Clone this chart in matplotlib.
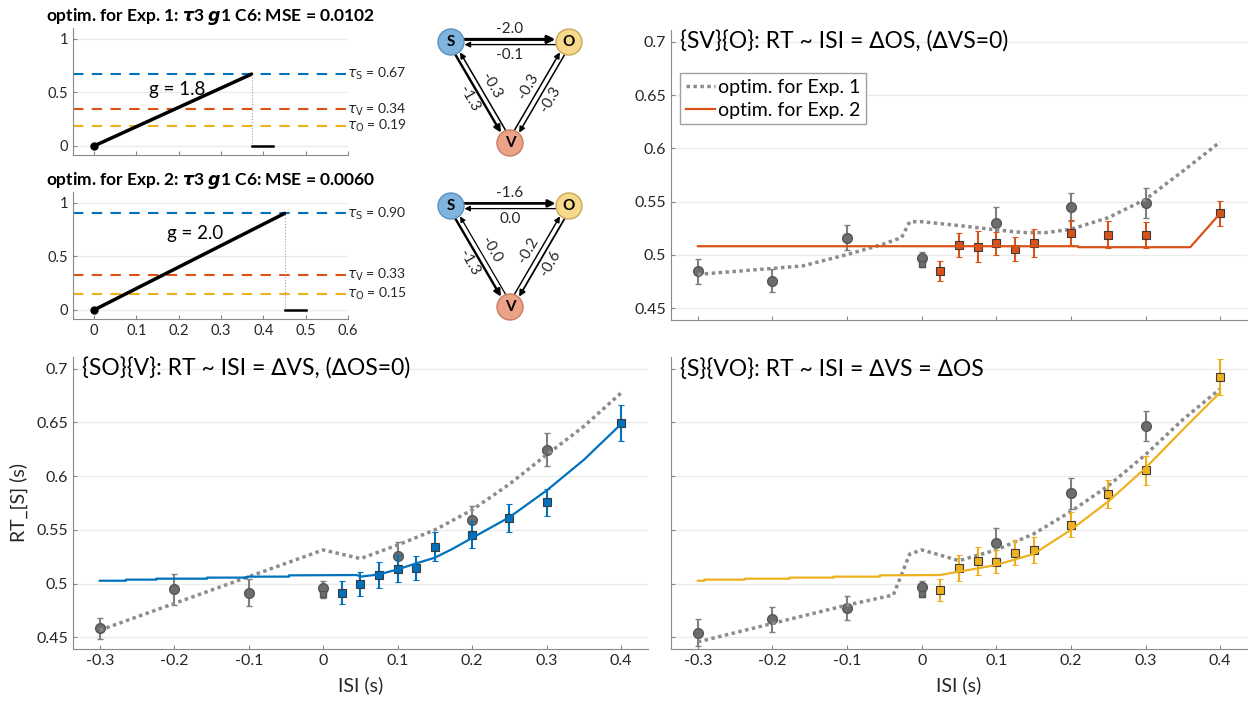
import numpy as np
import matplotlib.pyplot as plt
from matplotlib import ticker
from matplotlib.patches import Circle
from matplotlib.transforms import blended_transform_factory

plt.rcParams['font.family'] = ['Lato', 'DejaVu Sans']
plt.rcParams['axes.unicode_minus'] = False
plt.rcParams['mathtext.fontset'] = 'custom'
plt.rcParams['mathtext.rm'] = 'DejaVu Sans'
plt.rcParams['mathtext.it'] = 'DejaVu Sans:italic'
plt.rcParams['mathtext.bf'] = 'DejaVu Sans:italic:bold'

# MATLAB-like colours
BLUE = '#0072BD'
ORANGE = '#D95319'
YELLOW = '#EDB120'
GRAY = '#7f7f7f'
DOT_GRAY = '#8c8c8c'
AX_GRAY = '#8a8a8a'
TXT = '#262626'

# ---------------- data ----------------
# accumulator fits (top-left)
fit_names = ['Exp. 1', 'Exp. 2']
fit_mse = [0.0102, 0.0060]
fit_gain = [1.8, 2.0]
tau_S = [0.67, 0.90]
tau_V = [0.34, 0.33]
tau_O = [0.19, 0.15]

# coupling weights of the networks (middle)
w_SO = [-2.0, -1.6]
w_OS = [-0.1, 0.0]
w_SV = [-1.3, -1.3]
w_VS = [-0.3, -0.0]
w_VO = [-0.3, -0.2]
w_OV = [-0.3, -0.6]

# reaction times
isi_ticks = [-0.3, -0.2, -0.1, 0.0, 0.1, 0.2, 0.3, 0.4]
rt_ticks = [0.45, 0.5, 0.55, 0.6, 0.65, 0.7]
isi_exp1 = [-0.3, -0.2, -0.1, 0.0, 0.1, 0.2, 0.3]
isi_exp2 = [0.025, 0.05, 0.075, 0.1, 0.125, 0.15, 0.2, 0.25, 0.3, 0.4]

# {SV}{O}
sv_exp1 = [0.4846, 0.4758, 0.5163, 0.4967, 0.5297, 0.5453, 0.5487]
sv_exp1_err = [0.012, 0.011, 0.012, 0.006, 0.0155, 0.013, 0.0145]
sv_exp2 = [0.4852, 0.5092, 0.5079, 0.5110, 0.5054, 0.5110, 0.5210, 0.5191, 0.5188, 0.5390]
sv_exp2_err = [0.0095, 0.0115, 0.0145, 0.011, 0.011, 0.013, 0.012, 0.013, 0.0125, 0.012]
sv_exp2_zero = 0.4914
sv_fit1_x = [-0.3, -0.2, -0.159, -0.1, -0.052, -0.027, -0.016, 0.0, 0.055, 0.1, 0.136,
             0.167, 0.2, 0.25, 0.3, 0.35, 0.4]
sv_fit1_y = [0.4818, 0.4874, 0.4898, 0.5004, 0.5100, 0.5163, 0.5312, 0.5312, 0.5272, 0.5235,
             0.521, 0.521, 0.5241, 0.535, 0.5521, 0.5786, 0.606]
sv_fit2_x = [-0.3, 0.21, 0.21, 0.36, 0.4]
sv_fit2_y = [0.5082, 0.5082, 0.5073, 0.5073, 0.539]

# {SO}{V}
so_exp1 = [0.4581, 0.4945, 0.4914, 0.4961, 0.5260, 0.5593, 0.6247]
so_exp1_err = [0.010, 0.0147, 0.0125, 0.006, 0.013, 0.013, 0.0155]
so_exp2 = [0.4914, 0.4995, 0.5079, 0.5138, 0.5144, 0.5344, 0.5456, 0.5611, 0.5758, 0.6499]
so_exp2_err = [0.0106, 0.0115, 0.0125, 0.0125, 0.011, 0.0134, 0.0125, 0.013, 0.0125, 0.0168]
so_exp2_zero = 0.4899
so_fit1_x = [-0.3, 0.0, 0.05, 0.1, 0.15, 0.2, 0.25, 0.3, 0.35, 0.4]
so_fit1_y = [0.4565, 0.5313, 0.5232, 0.5359, 0.55, 0.5686, 0.5926, 0.62, 0.6465, 0.6776]
so_fit2_x = [-0.3, -0.265, -0.265, -0.224, -0.224, -0.156, -0.156, -0.102, -0.102, -0.046,
             -0.046, 0.045, 0.05, 0.075, 0.1, 0.125, 0.15, 0.175, 0.2, 0.25, 0.3, 0.35, 0.4]
so_fit2_y = [0.5026, 0.5026, 0.5036, 0.5036, 0.5045, 0.5045, 0.5055, 0.5055, 0.5064, 0.5064,
             0.5076, 0.5079, 0.5064, 0.5085, 0.5132, 0.5188, 0.5241, 0.5328, 0.5425, 0.5618,
             0.5867, 0.6153, 0.6486]

# {S}{VO}
s_exp1 = [0.4540, 0.4668, 0.4774, 0.4964, 0.5375, 0.5842, 0.6471]
s_exp1_err = [0.0125, 0.0117, 0.0114, 0.006, 0.014, 0.0145, 0.014]
s_exp2 = [0.4939, 0.5141, 0.5213, 0.5204, 0.5288, 0.5312, 0.5549, 0.5833, 0.6054, 0.6922]
s_exp2_err = [0.0105, 0.012, 0.013, 0.011, 0.012, 0.012, 0.012, 0.0134, 0.0134, 0.017]
s_exp2_zero = 0.4902
s_fit1_x = [-0.3, -0.2, -0.1, -0.038, -0.016, 0.0, 0.024, 0.05, 0.1, 0.15, 0.2, 0.25, 0.3,
            0.35, 0.4]
s_fit1_y = [0.4456, 0.4628, 0.4799, 0.4893, 0.5275, 0.5313, 0.5266, 0.5213, 0.5313, 0.5462,
            0.5671, 0.5910, 0.62, 0.6527, 0.6813]
s_fit2_x = [-0.3, -0.291, -0.291, -0.237, -0.237, -0.177, -0.177, -0.118, -0.118, -0.056,
            -0.056, 0.024, 0.05, 0.1, 0.15, 0.2, 0.25, 0.3, 0.35, 0.4]
s_fit2_y = [0.5026, 0.5026, 0.5036, 0.5036, 0.5045, 0.5045, 0.5055, 0.5055, 0.5064, 0.5064,
            0.5076, 0.5079, 0.511, 0.5173, 0.5275, 0.55, 0.5764, 0.6076, 0.6433, 0.678]

W, H = 1248, 702
fig = plt.figure(figsize=(W / 100, H / 100), dpi=100)


def px_axes(left, top, right, bottom):
    return fig.add_axes([left / W, 1 - bottom / H, (right - left) / W, (bottom - top) / H])


def style_axes(ax):
    for s in ['top', 'right']:
        ax.spines[s].set_visible(False)
    for s in ['left', 'bottom']:
        ax.spines[s].set_color(AX_GRAY)
    ax.tick_params(direction='in', length=3, color=AX_GRAY, labelcolor=TXT)
    ax.yaxis.grid(True, color='#ebebeb', lw=1)
    ax.set_axisbelow(True)


# ---------------- accumulator panels ----------------
acc_tops = [28, 192]
for i in range(2):
    ax = px_axes(73, acc_tops[i], 348, acc_tops[i] + 127)
    style_axes(ax)
    ax.set_xlim(-0.05, 0.6)
    ax.set_ylim(-0.085, 1.1)
    ax.set_xticks([0, 0.1, 0.2, 0.3, 0.4, 0.5, 0.6])
    ax.set_yticks([0, 0.5, 1])
    ax.xaxis.set_major_formatter(ticker.FormatStrFormatter('%g'))
    ax.yaxis.set_major_formatter(ticker.FormatStrFormatter('%g'))
    ax.tick_params(labelsize=10.5)
    if i == 0:
        ax.set_xticklabels([])
    ax.set_title(r'optim. for %s: $\mathbf{\tau}$3 $\mathbf{g}$1 C6: MSE = %.4f'
                 % (fit_names[i], fit_mse[i]), fontsize=12.5, fontweight='bold', pad=5)

    tr = blended_transform_factory(ax.transAxes, ax.transData)
    for tau, name, col in [(tau_S[i], 'S', BLUE), (tau_V[i], 'V', ORANGE), (tau_O[i], 'O', YELLOW)]:
        ax.axhline(tau, color=col, lw=1.5, ls=(0, (5, 4)))
        ax.text(0.995, tau, r'$\tau_{\mathrm{%s}}$ = %.2f' % (name, tau), transform=tr,
                fontsize=10, va='center', ha='left', color=TXT)

    x_end = tau_S[i] / fit_gain[i]
    ax.plot([0, x_end], [0, tau_S[i]], color='black', lw=2.5, solid_capstyle='round')
    ax.plot([0], [0], 'o', color='black', ms=5)
    ax.plot([x_end, x_end], [0, tau_S[i]], color='#a0a0a0', lw=0.8, ls=':')
    ax.plot([x_end, x_end + 0.05], [0, 0], color='black', lw=1.8)
    ax.text(x_end * 0.53, tau_S[i] * 0.79, 'g = %.1f' % fit_gain[i], fontsize=13.5,
            ha='center', va='center', color='black')

# ---------------- RT panels ----------------
panels = [
    dict(box=(671, 30, 1247, 320), title='{SV}{O}: RT ~ ISI = \u2206OS, (\u2206VS=0)', col=ORANGE,
         e1=sv_exp1, e1err=sv_exp1_err, e2=sv_exp2, e2err=sv_exp2_err, zero=sv_exp2_zero,
         f1=(sv_fit1_x, sv_fit1_y), f2=(sv_fit2_x, sv_fit2_y)),
    dict(box=(73, 357, 648, 649), title='{SO}{V}: RT ~ ISI = \u2206VS, (\u2206OS=0)', col=BLUE,
         e1=so_exp1, e1err=so_exp1_err, e2=so_exp2, e2err=so_exp2_err, zero=so_exp2_zero,
         f1=(so_fit1_x, so_fit1_y), f2=(so_fit2_x, so_fit2_y)),
    dict(box=(671, 357, 1247, 649), title='{S}{VO}: RT ~ ISI = \u2206VS = \u2206OS', col=YELLOW,
         e1=s_exp1, e1err=s_exp1_err, e2=s_exp2, e2err=s_exp2_err, zero=s_exp2_zero,
         f1=(s_fit1_x, s_fit1_y), f2=(s_fit2_x, s_fit2_y)),
]

for k, p in enumerate(panels):
    ax = px_axes(*p['box'])
    style_axes(ax)
    ax.set_xlim(-0.336, 0.436)
    ax.set_ylim(0.439, 0.711)
    ax.set_xticks(isi_ticks)
    ax.set_yticks(rt_ticks)
    ax.xaxis.set_major_formatter(ticker.FormatStrFormatter('%g'))
    ax.yaxis.set_major_formatter(ticker.FormatStrFormatter('%g'))
    ax.tick_params(labelsize=11.5)
    if k == 0:
        ax.set_xticklabels([])
    if k == 2:
        ax.set_yticklabels([])
    if k == 1:
        ax.set_ylabel('RT_[S] (s)', fontsize=14, color=TXT, labelpad=6)
    if k > 0:
        ax.set_xlabel('ISI (s)', fontsize=14, color=TXT, labelpad=6)

    # experiment 1 data and its fit
    ax.errorbar(isi_exp1, p['e1'], yerr=p['e1err'], fmt='o', color=GRAY, ms=7,
                mfc='#6d6d6d', mec='#555555', elinewidth=1.5, capsize=2, zorder=3)
    l1, = ax.plot(*p['f1'], color=DOT_GRAY, lw=2.5, ls=(0, (1, 1)), zorder=4,
                  label='optim. for Exp. 1')
    # experiment 2 data and its fit
    ax.errorbar([0.0], [p['zero']], yerr=[0.003], fmt='s', color=GRAY, ms=5,
                mfc='#6d6d6d', mec='#555555', elinewidth=1.2, capsize=2, zorder=3)
    ax.errorbar(isi_exp2, p['e2'], yerr=p['e2err'], fmt='s', color=p['col'], ms=5.5,
                mfc=p['col'], mec='#3a3a3a', mew=0.8, elinewidth=1.5, capsize=2, zorder=5)
    l2, = ax.plot(*p['f2'], color=p['col'], lw=1.6, zorder=6, label='optim. for Exp. 2')

    tr = blended_transform_factory(ax.transAxes, ax.transData)
    ax.text(0.016, 0.7, p['title'], transform=tr, fontsize=16.5, va='center', ha='left',
            color='black')
    if k == 0:
        ax.legend(handles=[l1, l2], loc='upper left', bbox_to_anchor=(0.016, 0.852),
                  borderaxespad=0, fancybox=False, edgecolor='#a0a0a0', framealpha=1,
                  fontsize=14, handlelength=1.5, handletextpad=0.15, borderpad=0.3,
                  labelspacing=0.3)

# ---------------- coupling networks ----------------
net = fig.add_axes([0, 0, 1, 1])
net.set_xlim(0, W)
net.set_ylim(H, 0)
net.axis('off')

node_r = 13
node_fc = {'S': '#7fb4df', 'O': '#f6d98c', 'V': '#eca287'}
node_ec = {'S': '#5f90bd', 'O': '#c9a957', 'V': '#c57d62'}
net_tops = [42, 206]

for i in range(2):
    pos = {'S': np.array([451.0, net_tops[i]]), 'O': np.array([569.0, net_tops[i]]),
           'V': np.array([510.0, net_tops[i] + 101])}
    # (source, target, weight, side of the pair the arrow sits on, label rotation)
    edges = [('S', 'O', w_SO[i], -1, 0), ('O', 'S', w_OS[i], -1, 0),
             ('S', 'V', w_SV[i], 1, -60), ('V', 'S', w_VS[i], 1, -60),
             ('V', 'O', w_VO[i], -1, 60), ('O', 'V', w_OV[i], -1, 60)]
    for src, dst, w, side, rot in edges:
        a, b = pos[src], pos[dst]
        d = (b - a) / np.linalg.norm(b - a)
        n = np.array([-d[1], d[0]]) * side
        off = n * 2.6
        start = a + d * node_r + off
        end = b - d * (node_r + 0.5) + off
        lw = 0.9 + 0.65 * abs(w)
        net.annotate('', xy=end, xytext=start,
                     arrowprops=dict(arrowstyle='-|>', lw=lw, color='black',
                                     mutation_scale=8 + 1.5 * abs(w), shrinkA=0, shrinkB=0))
        mid = (a + b) / 2 + n * 13
        net.text(mid[0], mid[1], '%.1f' % w, fontsize=11, ha='center', va='center',
                 rotation=rot, rotation_mode='anchor', color=TXT)
    for name, c in pos.items():
        net.add_patch(Circle(c, node_r, fc=node_fc[name], ec=node_ec[name], lw=1, zorder=5))
        net.text(c[0], c[1], name, fontsize=11, fontweight='bold', ha='center', va='center',
                 zorder=6)

fig.savefig('out.png', dpi=100)
